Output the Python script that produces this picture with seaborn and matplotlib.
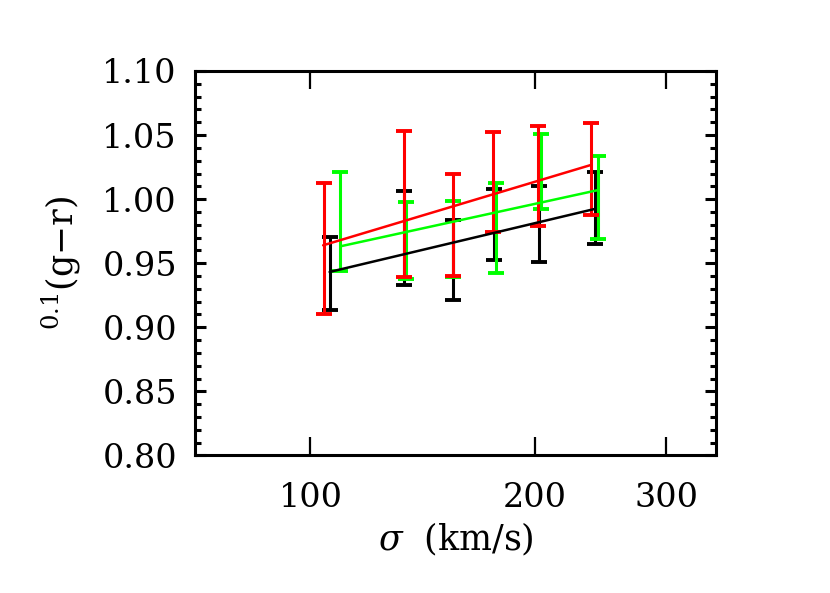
import numpy as np
import pandas as pd
import matplotlib
matplotlib.use("Agg")
import matplotlib.pyplot as plt
import seaborn as sns
from matplotlib.ticker import FixedLocator, MultipleLocator, NullLocator

# velocity dispersion bins (km/s) and colour ranges for each sample
sigma_black = [106.1, 133.7, 155.4, 176.2, 202.7, 240.8]
top_black = [0.9706, 1.0065, 0.9836, 1.0083, 1.0102, 1.0213]
bot_black = [0.9138, 0.9333, 0.9211, 0.9529, 0.9510, 0.9648]

sigma_green = [109.7, 134.2, 155.4, 177.3, 203.8, 242.8]
top_green = [1.0213, 0.9974, 0.9984, 1.0123, 1.0508, 1.0338]
bot_green = [0.9440, 0.9375, 0.9390, 0.9424, 0.9927, 0.9688]

sigma_red = [104.2, 133.5, 155.4, 175.8, 202.1, 237.6]
top_red = [1.0123, 1.0531, 1.0195, 1.0523, 1.0570, 1.0591]
bot_red = [0.9107, 0.9393, 0.9398, 0.9745, 0.9789, 0.9880]

# straight-line fits: (sigma start, sigma end), (colour start, colour end)
fit_black = ([106.1, 240.0], [0.9432, 0.9922])
fit_green = ([109.9, 242.8], [0.9633, 1.0070])
fit_red = ([104.0, 237.6], [0.9640, 1.0266])

samples = [
    ("black", sigma_black, top_black, bot_black, fit_black),
    ("#00ff00", sigma_green, top_green, bot_green, fit_green),
    ("red", sigma_red, top_red, bot_red, fit_red),
]

sns.set_style("ticks")
plt.rcParams["font.family"] = ["DejaVu Serif"]
plt.rcParams["mathtext.fontset"] = "dejavuserif"
plt.rcParams["text.color"] = "black"
plt.rcParams["axes.labelcolor"] = "black"
plt.rcParams["xtick.color"] = "black"
plt.rcParams["ytick.color"] = "black"
plt.rcParams["axes.edgecolor"] = "black"

fig = plt.figure(figsize=(8.3, 5.93), dpi=100)
ax = fig.add_axes([0.2349, 0.2319, 0.8627 - 0.2349, 0.8803 - 0.2319])

for color, s, top, bot, fit in samples:
    top = np.array(top)
    bot = np.array(bot)
    mid = (top + bot) / 2
    err = (top - bot) / 2
    ax.errorbar(s, mid, yerr=err, fmt="none", ecolor=color, elinewidth=2.2,
                capsize=5.8, capthick=2.8, zorder=2)
    df = pd.DataFrame({"sigma": fit[0], "col": fit[1]})
    sns.lineplot(data=df, x="sigma", y="col", color=color, lw=1.8, ax=ax,
                 zorder=3)

ax.set_xscale("log")
ax.set_xlim(70, 350)
ax.set_ylim(0.80, 1.10)
ax.xaxis.set_major_locator(FixedLocator([100, 200, 300]))
ax.xaxis.set_minor_locator(NullLocator())
ax.set_xticklabels(["100", "200", "300"])
ax.yaxis.set_major_locator(MultipleLocator(0.05))
ax.yaxis.set_minor_locator(MultipleLocator(0.01))
ax.yaxis.set_major_formatter(plt.FormatStrFormatter("%.2f"))

for sp in ax.spines.values():
    sp.set_linewidth(2.2)
    sp.set_visible(True)

ax.tick_params(axis="x", which="major", direction="in", length=13, width=1.6,
               top=True, bottom=True, pad=19, labelsize=24)
ax.tick_params(axis="y", which="major", direction="in", length=8, width=2.2,
               left=True, right=True, pad=13, labelsize=24)
ax.tick_params(axis="y", which="minor", direction="in", length=4.5, width=2.2,
               left=True, right=True)

ax.set_xlabel(r"$\sigma$  (km/s)", fontsize=25, labelpad=5)
ax.set_ylabel(r"$^{0.1}$(g$-$r)", fontsize=25, labelpad=14)

fig.savefig("out.png", dpi=100)
